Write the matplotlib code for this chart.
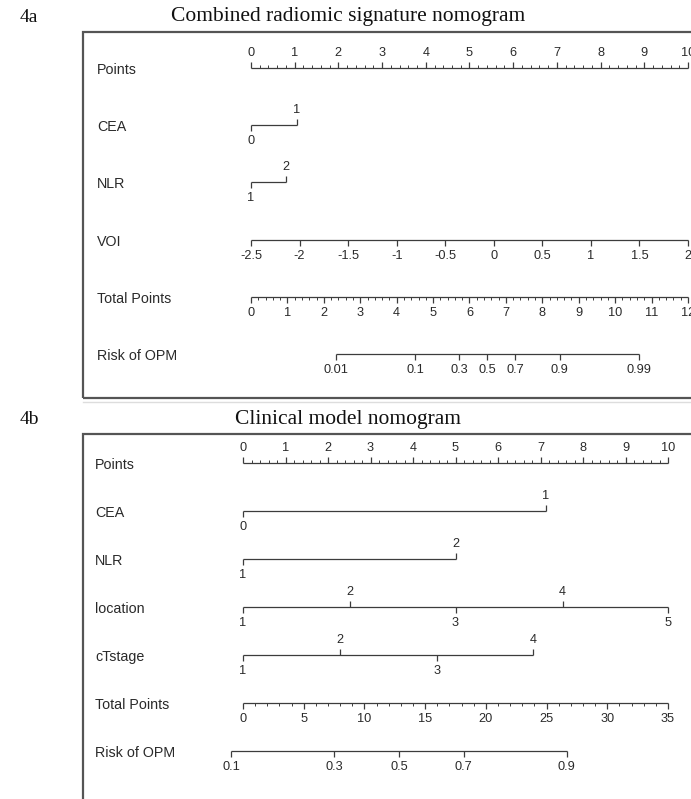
import numpy as np
import matplotlib
matplotlib.use("Agg")
import matplotlib.pyplot as plt
import matplotlib.transforms as mtransforms
from matplotlib.lines import TICKUP, TICKDOWN
from matplotlib.patches import Rectangle

plt.rcParams['font.family'] = ['Liberation Sans', 'DejaVu Sans']

W, H = 691, 799
LINE = '#3c3c3c'
TEXT = '#2a2a2a'

# 4a: combined radiomic signature nomogram
a_rows = ["Points", "CEA", "NLR", "VOI", "Total Points", "Risk of OPM"]
a_cea_levels = ["0", "1"]
a_cea_points = [0, 1.05]
a_nlr_levels = ["1", "2"]
a_nlr_points = [0, 0.80]
a_voi_values = [-2.5, -2, -1.5, -1, -0.5, 0, 0.5, 1, 1.5, 2]
a_voi_min, a_voi_max = -2.5, 2.0          # spans 0..10 points
a_total_max = 12
a_risk_ticks = [0.01, 0.1, 0.3, 0.5, 0.7, 0.9, 0.99]
a_risk_mid = 6.49      # total points where risk = 0.5
a_risk_slope = 1.105   # logit per total point

# 4b: clinical model nomogram
b_rows = ["Points", "CEA", "NLR", "location", "cTstage", "Total Points", "Risk of OPM"]
b_cea_levels = ["0", "1"]
b_cea_points = [0, 7.12]
b_nlr_levels = ["1", "2"]
b_nlr_points = [0, 5.0]
b_loc_levels = ["1", "2", "3", "4", "5"]
b_loc_points = [0, 2.52, 5.0, 7.52, 10]
b_ct_levels = ["1", "2", "3", "4"]
b_ct_points = [0, 2.28, 4.56, 6.82]
b_total_max = 35
b_risk_ticks = [0.1, 0.3, 0.5, 0.7, 0.9]
b_risk_mid = 12.85
b_risk_slope = 0.159


def fmt(v):
    return "%g" % v


def scale(ax, row, pos, labels, sides, minor=None, minor_side='down',
          major_len=4.0, minor_len=2.2, fs=9.2):
    """Draw one nomogram axis: line, ticks and labels."""
    ax.plot([min(pos), max(pos)], [row, row], color=LINE, lw=0.9,
            solid_capstyle='butt', clip_on=False)
    for p, lab, side in zip(pos, labels, sides):
        mk = TICKUP if side == 'up' else TICKDOWN
        ax.plot([p], [row], ls='none', marker=mk, ms=major_len, mew=0.9,
                color=LINE, clip_on=False)
        dy = 11.0 if side == 'up' else -11.5
        ax.annotate(lab, (p, row), xytext=(0, dy), textcoords='offset points',
                    ha='center', va='center', fontsize=fs, color=TEXT,
                    annotation_clip=False)
    if minor is not None:
        mk = TICKUP if minor_side == 'up' else TICKDOWN
        ax.plot(minor, [row] * len(minor), ls='none', marker=mk, ms=minor_len,
                mew=0.7, color=LINE, clip_on=False)


def alternate(n):
    return ['down' if i % 2 == 0 else 'up' for i in range(n)]


def risk_points(ticks, mid, slope, total_max):
    t = np.array(ticks)
    total = mid + np.log(t / (1 - t)) / slope
    return total * 10 / total_max


def make_ax(fig, x0, x10, top, bottom, nrows):
    ax = fig.add_axes([x0 / W, 1 - bottom / H, (x10 - x0) / W, (bottom - top) / H])
    ax.set_xlim(0, 10)
    ax.set_ylim(nrows - 1, 0)
    ax.axis('off')
    return ax


def var_labels(fig, ax, rows, x_px):
    tr = mtransforms.blended_transform_factory(fig.transFigure, ax.transData)
    for i, name in enumerate(rows):
        ax.annotate(name, (x_px / W, i), xycoords=tr, xytext=(0, -1.5),
                    textcoords='offset points', ha='left', va='center',
                    fontsize=10.3, color=TEXT, annotation_clip=False)


fig = plt.figure(figsize=(W / 100, H / 100), dpi=100)
fig.patch.set_facecolor('white')

serif = ['Liberation Serif', 'DejaVu Serif']

# ---------- panel 4a ----------
fig.text(20 / W, 1 - 17 / H, "4a", family=serif, fontsize=14, color='#111111',
         ha='left', va='center')
fig.text(348 / W, 1 - 17 / H, "Combined radiomic signature nomogram", family=serif,
         fontsize=15.5, color='#111111', ha='center', va='center')
fig.add_artist(Rectangle((83 / W, 1 - 398 / H), (720 - 83) / W, (398 - 32) / H,
                         transform=fig.transFigure, fill=False,
                         edgecolor='#555555', lw=1.6))
fig.add_artist(plt.Line2D([83 / W, 1], [1 - 402 / H] * 2, transform=fig.transFigure,
                          color='#dddddd', lw=1.0))

axa = make_ax(fig, 251, 688, 68, 354, len(a_rows))
var_labels(fig, axa, a_rows, 97)

pts_major = list(range(0, 11))
pts_minor = [v / 5 for v in range(0, 51) if v % 5 != 0]
scale(axa, 0, pts_major, [str(v) for v in pts_major], ['up'] * 11,
      minor=pts_minor, minor_side='up')
scale(axa, 1, a_cea_points, a_cea_levels, alternate(2))
scale(axa, 2, a_nlr_points, a_nlr_levels, alternate(2))
voi_pos = [(v - a_voi_min) / (a_voi_max - a_voi_min) * 10 for v in a_voi_values]
scale(axa, 3, voi_pos, [fmt(v) for v in a_voi_values], ['down'] * len(voi_pos))
tot_major = list(range(0, a_total_max + 1))
tot_minor = [v / 5 * 10 / a_total_max for v in range(0, a_total_max * 5 + 1) if v % 5 != 0]
scale(axa, 4, [v * 10 / a_total_max for v in tot_major], [str(v) for v in tot_major],
      ['down'] * len(tot_major), minor=tot_minor, minor_side='down')
scale(axa, 5, risk_points(a_risk_ticks, a_risk_mid, a_risk_slope, a_total_max),
      [fmt(v) for v in a_risk_ticks], ['down'] * len(a_risk_ticks))

# ---------- panel 4b ----------
fig.text(20 / W, 1 - 419 / H, "4b", family=serif, fontsize=14, color='#111111',
         ha='left', va='center')
fig.text(348 / W, 1 - 419 / H, "Clinical model nomogram", family=serif,
         fontsize=15.5, color='#111111', ha='center', va='center')
fig.add_artist(Rectangle((83 / W, 1 - 830 / H), (720 - 83) / W, (830 - 434) / H,
                         transform=fig.transFigure, fill=False,
                         edgecolor='#555555', lw=1.6))

axb = make_ax(fig, 243, 668, 463, 751, len(b_rows))
var_labels(fig, axb, b_rows, 95)

scale(axb, 0, pts_major, [str(v) for v in pts_major], ['up'] * 11,
      minor=pts_minor, minor_side='up')
scale(axb, 1, b_cea_points, b_cea_levels, alternate(2))
scale(axb, 2, b_nlr_points, b_nlr_levels, alternate(2))
scale(axb, 3, b_loc_points, b_loc_levels, alternate(5))
scale(axb, 4, b_ct_points, b_ct_levels, alternate(4))
totb_major = list(range(0, b_total_max + 1, 5))
totb_minor = [v * 10 / b_total_max for v in range(0, b_total_max + 1) if v % 5 != 0]
scale(axb, 5, [v * 10 / b_total_max for v in totb_major], [str(v) for v in totb_major],
      ['down'] * len(totb_major), minor=totb_minor, minor_side='down')
scale(axb, 6, risk_points(b_risk_ticks, b_risk_mid, b_risk_slope, b_total_max),
      [fmt(v) for v in b_risk_ticks], ['down'] * len(b_risk_ticks))

fig.savefig("out.png", dpi=100, facecolor='white')
